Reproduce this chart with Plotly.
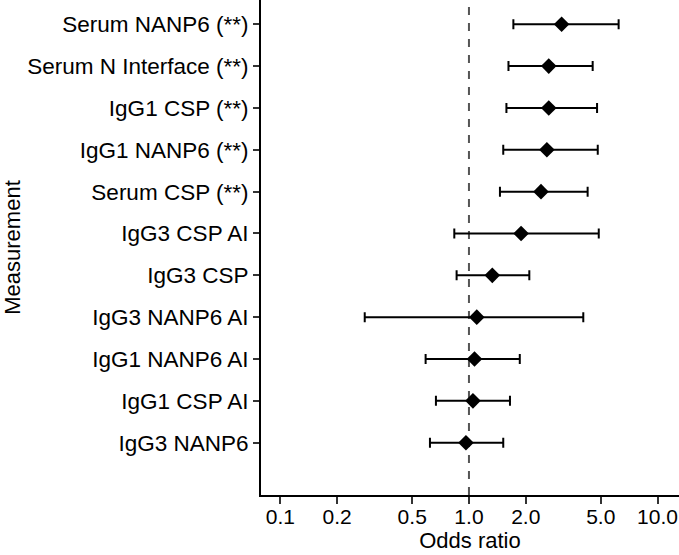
import plotly.graph_objects as go

# Data (top to bottom as displayed)
measurements = [
    "Serum NANP6 (**)",
    "Serum N Interface (**)",
    "IgG1 CSP (**)",
    "IgG1 NANP6 (**)",
    "Serum CSP (**)",
    "IgG3 CSP AI",
    "IgG3 CSP",
    "IgG3 NANP6 AI",
    "IgG1 NANP6 AI",
    "IgG1 CSP AI",
    "IgG3 NANP6",
]
odds_ratio = [3.10, 2.65, 2.65, 2.59, 2.41, 1.89, 1.33, 1.10, 1.07, 1.05, 0.964]
ci_lower = [1.72, 1.62, 1.58, 1.52, 1.46, 0.836, 0.86, 0.28, 0.589, 0.668, 0.621]
ci_upper = [6.22, 4.53, 4.78, 4.82, 4.26, 4.88, 2.09, 4.04, 1.86, 1.65, 1.52]

x_tickvals = [0.1, 0.2, 0.5, 1.0, 2.0, 5.0, 10.0]
x_ticktext = ["0.1", "0.2", "0.5", "1.0", "2.0", "5.0", "10.0"]

err_plus = [u - m for u, m in zip(ci_upper, odds_ratio)]
err_minus = [m - l for m, l in zip(odds_ratio, ci_lower)]

FONT = "Liberation Sans, Arial, sans-serif"

fig = go.Figure()
fig.add_trace(go.Scatter(
    x=odds_ratio,
    y=measurements,
    mode="markers",
    marker=dict(symbol="diamond", size=12, color="black"),
    error_x=dict(type="data", symmetric=False, array=err_plus, arrayminus=err_minus,
                 color="black", thickness=2, width=5),
    showlegend=False,
))

fig.add_vline(x=1.0, line=dict(color="#555555", width=2, dash="8px,8px"), layer="below")

fig.update_layout(
    width=679, height=555,
    margin=dict(l=261, r=0, t=0, b=60, autoexpand=False),
    plot_bgcolor="white", paper_bgcolor="white",
    font=dict(family=FONT, color="black", size=22),
)
fig.update_xaxes(
    type="log",
    range=[-1.103, 1.114],
    tickvals=x_tickvals, ticktext=x_ticktext,
    ticks="outside", ticklen=7, tickwidth=1.5, tickcolor="#333333",
    ticklabelstandoff=-5,
    showline=True, linecolor="black", linewidth=2,
    showgrid=False, zeroline=False,
    tickfont=dict(size=21, family=FONT, color="black"),
    title=dict(text="Odds ratio", font=dict(size=22, family=FONT, color="black"), standoff=4),
    automargin=False,
)
fig.update_yaxes(
    type="category",
    categoryorder="array", categoryarray=list(reversed(measurements)),
    range=[-1.25, 10.58],
    ticks="outside", ticklen=6, tickwidth=1.5, tickcolor="#333333",
    showline=True, linecolor="black", linewidth=2,
    showgrid=False, zeroline=False,
    tickfont=dict(size=22.5, family=FONT, color="black"),
    title=dict(text="Measurement", font=dict(size=22, family=FONT, color="black"), standoff=26),
    automargin=False,
)

fig.write_html("out.html", config={"displayModeBar": False},
               post_script="document.body.style.margin='0';document.body.style.padding='0';")
